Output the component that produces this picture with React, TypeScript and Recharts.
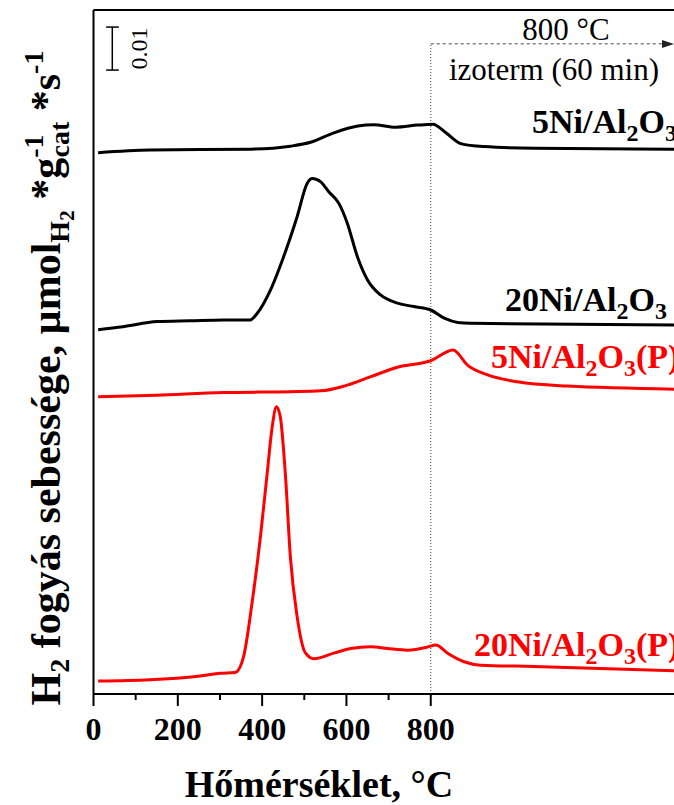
import React from 'react';
import { LineChart, Line, XAxis, YAxis, ReferenceLine } from 'recharts';

// Temperature (°C) / rate values for each sample
const ni5Temp = [11, 134, 372, 467, 515, 570, 627, 665, 717, 769, 805, 836, 871, 926, 1045, 1377];
const ni5Rate = [0.1259, 0.1265, 0.1267, 0.1274, 0.1283, 0.1305, 0.1321, 0.1324, 0.1318, 0.1323, 0.1325, 0.1305, 0.128, 0.1273, 0.1269, 0.1267];

const ni20Temp = [11, 70, 151, 229, 308, 372, 388, 420, 451, 483, 507, 519, 539, 558, 582, 602, 626, 650, 681, 721, 760, 800, 832, 864, 895, 1377];
const ni20Rate = [0.0847, 0.0854, 0.0866, 0.0868, 0.087, 0.087, 0.0885, 0.094, 0.1017, 0.111, 0.1188, 0.1199, 0.1191, 0.1168, 0.1141, 0.1095, 0.1017, 0.0963, 0.0928, 0.0909, 0.0901, 0.0893, 0.0874, 0.0864, 0.0862, 0.0858];

const ni5PTemp = [11, 150, 309, 467, 539, 594, 658, 721, 800, 853, 887, 935, 1006, 1125, 1377];
const ni5PRate = [0.0691, 0.0695, 0.0701, 0.0703, 0.0705, 0.0716, 0.0738, 0.076, 0.0775, 0.08, 0.0765, 0.0742, 0.0726, 0.0716, 0.0709];

const ni20PTemp = [11, 134, 253, 301, 336, 356, 376, 396, 412, 424, 434, 443, 455, 467, 483, 503, 523, 570, 610, 658, 697, 745, 792, 812, 840, 879, 919, 1045, 1377];
const ni20PRate = [0.003, 0.0033, 0.0042, 0.0048, 0.005, 0.0087, 0.0211, 0.0366, 0.0513, 0.0622, 0.0668, 0.0645, 0.0513, 0.0319, 0.018, 0.0095, 0.0082, 0.0095, 0.0106, 0.011, 0.0106, 0.0102, 0.0109, 0.0114, 0.0095, 0.0075, 0.0067, 0.0064, 0.0054];

const xTicks = [0, 100, 200, 300, 400, 500, 600, 700, 800];
const xMax = 1377;
const yMax = 0.15907;
const scaleBarX = 44.6;
const scaleBarBottom = 0.1451;
const scaleBarTop = 0.1551;
const isoX = 800;
const isoY = 0.1512;

const toData = (t: number[], v: number[]) => t.map((T, i) => ({ T, v: v[i] }));
const ni5Data = toData(ni5Temp, ni5Rate);
const ni20Data = toData(ni20Temp, ni20Rate);
const ni5PData = toData(ni5PTemp, ni5PRate);
const ni20PData = toData(ni20PTemp, ni20PRate);

const SERIF = '"Liberation Serif", "Times New Roman", serif';

const XTick = (props: any) => {
  const { x, y, payload } = props;
  const major = payload.value % 200 === 0;
  return (
    <g>
      <line x1={x} y1={y} x2={x} y2={y + (major ? 12 : 6)} stroke="#000" strokeWidth={2} />
      {major && (
        <text x={x} y={y + 46} textAnchor="middle" fontFamily={SERIF} fontWeight="bold" fontSize={32} fill="#000">
          {payload.value}
        </text>
      )}
    </g>
  );
};

const SeriesLabel = ({ x, y, color, suffix }: { x: number; y: number; color: string; suffix: string }) => (
  <text x={x} y={y} fontFamily={SERIF} fontWeight="bold" fontSize={34} fill={color}>
    {suffix.startsWith('20') ? '20' : '5'}Ni/Al
    <tspan dy={8} fontSize={24}>2</tspan>
    <tspan dy={-8}>O</tspan>
    <tspan dy={8} fontSize={24}>3</tspan>
    <tspan dy={-8}>{suffix.endsWith('P') ? '(P)' : ''}</tspan>
  </text>
);

export default function App() {
  return (
    <div style={{ position: 'absolute', left: 0, top: 0, width: 674, height: 805, overflow: 'hidden', background: '#fff' }}>
      <LineChart width={674} height={805} margin={{ top: 10, right: 0, bottom: 0, left: 93.5 }}>
        <XAxis
          dataKey="T"
          type="number"
          domain={[0, xMax]}
          ticks={xTicks}
          interval={0}
          height={111}
          tickSize={0}
          tickMargin={0}
          tickLine={false}
          tick={<XTick />}
          axisLine={{ stroke: '#000', strokeWidth: 2 }}
          allowDataOverflow
        />
        <YAxis type="number" domain={[0, yMax]} hide allowDataOverflow />
        <ReferenceLine y={yMax} stroke="#000" strokeWidth={2} />
        <ReferenceLine x={0} stroke="#000" strokeWidth={2} />
        <ReferenceLine segment={[{ x: isoX, y: 0 }, { x: isoX, y: isoY }]} stroke="#444" strokeWidth={1} strokeDasharray="1 2" />
        <ReferenceLine segment={[{ x: isoX, y: isoY }, { x: 1360, y: isoY }]} stroke="#444" strokeWidth={1} strokeDasharray="3 3" />
        <ReferenceLine segment={[{ x: scaleBarX, y: scaleBarBottom }, { x: scaleBarX, y: scaleBarTop }]} stroke="#000" strokeWidth={1.5} />
        <ReferenceLine segment={[{ x: 30, y: scaleBarBottom }, { x: 60, y: scaleBarBottom }]} stroke="#000" strokeWidth={1.5} />
        <ReferenceLine segment={[{ x: 30, y: scaleBarTop }, { x: 60, y: scaleBarTop }]} stroke="#000" strokeWidth={1.5} />
        <Line data={ni5Data} dataKey="v" type="monotone" stroke="#000" strokeWidth={3} dot={false} isAnimationActive={false} />
        <Line data={ni20Data} dataKey="v" type="monotone" stroke="#000" strokeWidth={3} dot={false} isAnimationActive={false} />
        <Line data={ni5PData} dataKey="v" type="monotone" stroke="#ff0000" strokeWidth={3} dot={false} isAnimationActive={false} />
        <Line data={ni20PData} dataKey="v" type="monotone" stroke="#ff0000" strokeWidth={3} dot={false} isAnimationActive={false} />
      </LineChart>
      <svg width={674} height={805} style={{ position: 'absolute', left: 0, top: 0, pointerEvents: 'none' }}>
        <polygon points="662,40 674,44 662,48" fill="#222" />
        <text x={566} y={40} textAnchor="middle" fontFamily={SERIF} fontSize={31} fill="#000">800 °C</text>
        <text x={449} y={80} fontFamily={SERIF} fontSize={31} fill="#000">izoterm (60 min)</text>
        <text transform="translate(147,48.5) rotate(-90)" textAnchor="middle" fontFamily={SERIF} fontSize={24} fill="#000">0.01</text>
        <SeriesLabel x={532} y={133} color="#000" suffix="5" />
        <SeriesLabel x={505} y={311} color="#000" suffix="20" />
        <SeriesLabel x={491} y={368} color="#ff0000" suffix="5P" />
        <SeriesLabel x={474} y={656} color="#ff0000" suffix="20P" />
        <text x={319} y={797} textAnchor="middle" fontFamily={SERIF} fontWeight="bold" fontSize={38} fill="#000">Hőmérséklet, °C</text>
        <text transform="translate(60,378) rotate(-90)" textAnchor="middle" fontFamily={SERIF} fontWeight="bold" fontSize={42} fill="#000">
          H<tspan dy={9} fontSize={28}>2</tspan>
          <tspan dy={-9}> fogyás sebessége, µmol</tspan>
          <tspan dy={9} fontSize={28}>H</tspan>
          <tspan dy={5} fontSize={21}>2</tspan>
          <tspan dy={-14}> *g</tspan>
          <tspan dy={-17} fontSize={28}>-1</tspan>
          <tspan dx={-23} dy={26} fontSize={28}>cat</tspan>
          <tspan dy={-9}> *s</tspan>
          <tspan dy={-17} fontSize={28}>-1</tspan>
        </text>
      </svg>
    </div>
  );
}
